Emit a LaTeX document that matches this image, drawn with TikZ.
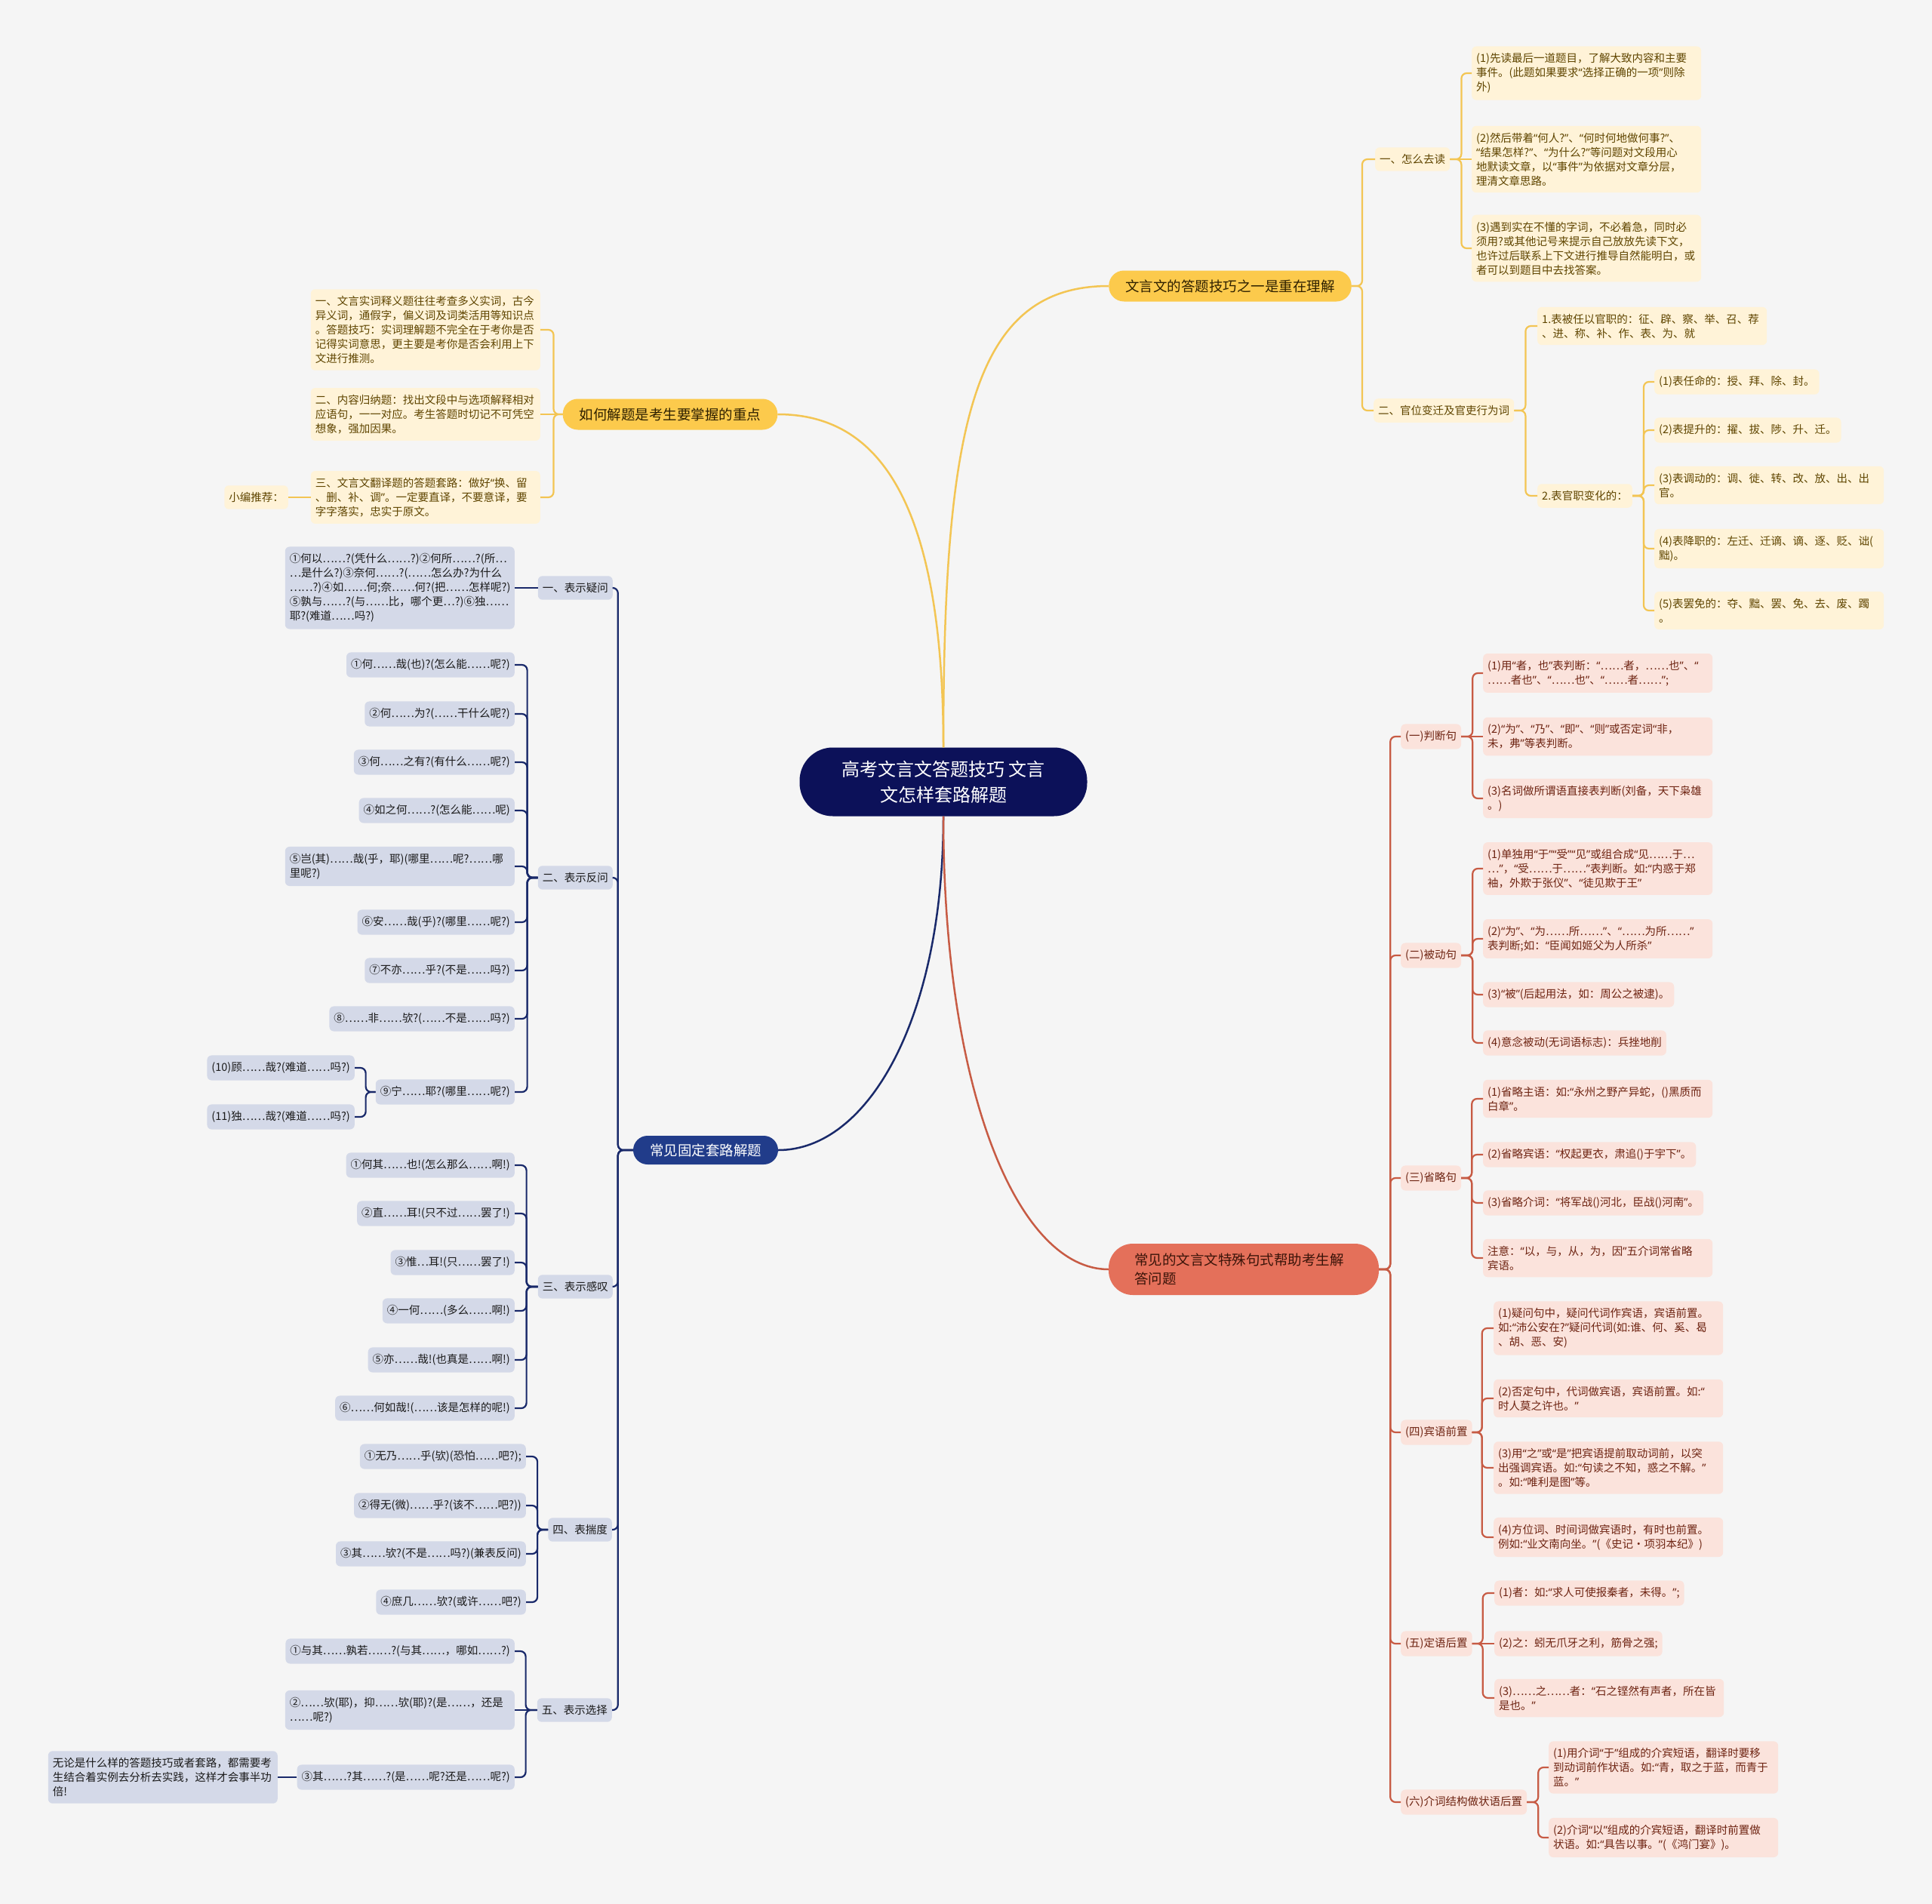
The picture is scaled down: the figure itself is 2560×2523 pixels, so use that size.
\documentclass[tikz,border=0pt]{standalone}
\usepackage{fontspec}
\usepackage{tikz}
\newfontfamily\cjk{Noto Sans CJK SC}
\newfontfamily\qfont{Noto Sans}

\definecolor{paper}{HTML}{F5F5F5}
\definecolor{rootnavy}{HTML}{0C1159}
\definecolor{sunY}{HTML}{FCCA4C}
\definecolor{lineY}{HTML}{F3C553}
\definecolor{creamY}{HTML}{FFF3D8}
\definecolor{inkY}{HTML}{5F4500}
\definecolor{inkTop}{HTML}{2E2000}
\definecolor{midnavy}{HTML}{213C8A}
\definecolor{lineB}{HTML}{19296A}
\definecolor{lilacB}{HTML}{D4D9E8}
\definecolor{inkB}{HTML}{1A1A1A}
\definecolor{coral}{HTML}{E4705A}
\definecolor{lineR}{HTML}{C75B44}
\definecolor{blushR}{HTML}{FBE3DC}
\definecolor{inkR}{HTML}{6E2412}
\definecolor{inkTopR}{HTML}{3A1409}

\newcommand{\rootfont}{\cjk\fontsize{24}{34}\selectfont}
\newcommand{\topicfont}{\cjk\fontsize{18.5}{25}\selectfont}
\newcommand{\leaffont}{\cjk\fontsize{14.5}{19}\selectfont}

% narrow western quotes inside the CJK text
\begingroup
\catcode`\“=\active
\catcode`\”=\active
\gdef“{{\qfont\char"201C}}
\gdef”{{\qfont\char"201D}}
\endgroup
\catcode`\“=\active
\catcode`\”=\active

\tikzstyle{rootnode} = [rectangle, rounded corners=44pt, minimum width=381pt, minimum height=91pt, align=center, fill=rootnavy, text=white, font=\rootfont]
\tikzstyle{topicY} = [rectangle, rounded corners=20pt, minimum height=41pt, inner xsep=22pt, fill=sunY, text=inkTop, font=\topicfont]
\tikzstyle{topicB} = [rectangle, rounded corners=19pt, minimum height=38pt, inner xsep=22pt, fill=midnavy, text=white, font=\topicfont]
\tikzstyle{topicR} = [rectangle, rounded corners=32pt, minimum height=68pt, text width=290pt, inner xsep=34pt, align=left, fill=coral, text=inkTopR, font=\topicfont]
\tikzstyle{leafY} = [rectangle, rounded corners=6pt, inner xsep=6pt, inner ysep=9pt, fill=creamY, text=inkY, font=\leaffont]
\tikzstyle{leafB} = [rectangle, rounded corners=6pt, inner xsep=6pt, inner ysep=9pt, fill=lilacB, text=inkB, font=\leaffont]
\tikzstyle{leafR} = [rectangle, rounded corners=6pt, inner xsep=6pt, inner ysep=9pt, fill=blushR, text=inkR, font=\leaffont]
\tikzstyle{boxw} = [text width=292pt, align=left]
\tikzstyle{linkY} = [draw=lineY, line width=2.2pt, rounded corners=7pt]
\tikzstyle{linkB} = [draw=lineB, line width=2.2pt, rounded corners=7pt]
\tikzstyle{linkR} = [draw=lineR, line width=2.2pt, rounded corners=7pt]
\tikzstyle{curveY} = [draw=lineY, line width=2.5pt]
\tikzstyle{curveB} = [draw=lineB, line width=2.5pt]
\tikzstyle{curveR} = [draw=lineR, line width=2.5pt]

\begin{document}
\begin{tikzpicture}[x=1pt, y=-1pt]

    % Canvas
    \fill [paper] (0,0) rectangle (2560,2523);
    \useasboundingbox (0,0) rectangle (2560,2523);

    % Nodes
    \node (root) [rootnode] at (1250,1036) {高考文言文答题技巧 文言\\文怎样套路解题};
    \node (readskill) [topicY] at (1630,379) {文言文的答题技巧之一是重在理解};
    \node (keypoint) [topicY] at (888,549) {如何解题是考生要掌握的重点};
    \node (routine) [topicB] at (935,1524) {常见固定套路解题};
    \node (special) [topicR] at (1648,1682) {常见的文言文特殊句式帮助考生解\\答问题};

    % Reading branch
    \node (howread) [leafY, anchor=west] at (1822,211) {一、怎么去读};
    \node (read1) [leafY, boxw, anchor=west] at (1950,97) {(1)先读最后一道题目，了解大致内容和主要\\事件。(此题如果要求“选择正确的一项”则除\\外)};
    \node (read2) [leafY, boxw, anchor=west] at (1950,211) {(2)然后带着“何人?”、“何时何地做何事?”、\\“结果怎样?”、“为什么?”等问题对文段用心\\地默读文章，以“事件”为依据对文章分层，\\理清文章思路。};
    \node (read3) [leafY, boxw, anchor=west] at (1950,329) {(3)遇到实在不懂的字词，不必着急，同时必\\须用?或其他记号来提示自己放放先读下文，\\也许过后联系上下文进行推导自然能明白，或\\者可以到题目中去找答案。};
    \node (official) [leafY, anchor=west] at (1820,544) {二、官位变迁及官吏行为词};
    \node (appoint) [leafY, boxw, anchor=west] at (2037,432) {1.表被任以官职的：征、辟、察、举、召、荐\\、进、称、补、作、表、为、就};
    \node (change) [leafY, anchor=west] at (2037,657) {2.表官职变化的：};
    \node (chg1) [leafY, anchor=west] at (2192,506) {(1)表任命的：授、拜、除、封。};
    \node (chg2) [leafY, anchor=west] at (2192,570) {(2)表提升的：擢、拔、陟、升、迁。};
    \node (chg3) [leafY, boxw, anchor=west] at (2192,643) {(3)表调动的：调、徙、转、改、放、出、出\\官。};
    \node (chg4) [leafY, boxw, anchor=west] at (2192,727) {(4)表降职的：左迁、迁谪、谪、逐、贬、诎(\\黜)。};
    \node (chg5) [leafY, boxw, anchor=west] at (2192,809) {(5)表罢免的：夺、黜、罢、免、去、废、躅\\。};

    % Key point branch
    \node (kp1) [leafY, boxw, anchor=east] at (716,437) {一、文言实词释义题往往考查多义实词，古今\\异义词，通假字，偏义词及词类活用等知识点\\。答题技巧：实词理解题不完全在于考你是否\\记得实词意思，更主要是考你是否会利用上下\\文进行推测。};
    \node (kp2) [leafY, boxw, anchor=east] at (716,549) {二、内容归纳题：找出文段中与选项解释相对\\应语句，一一对应。考生答题时切记不可凭空\\想象，强加因果。};
    \node (kp3) [leafY, boxw, anchor=east] at (716,659) {三、文言文翻译题的答题套路：做好“换、留\\、删、补、调”。一定要直译，不要意译，要\\字字落实，忠实于原文。};
    \node (recommend) [leafY, anchor=east] at (382,659) {小编推荐：};

    % Routine branch
    \node (ask) [leafB, anchor=east] at (812,779) {一、表示疑问};
    \node (askA) [leafB, boxw, anchor=east] at (682,779) {①何以……?(凭什么……?)②何所……?(所…\\…是什么?)③奈何……?(……怎么办?为什么\\……?)④如……何;奈……何?(把……怎样呢?)\\⑤孰与……?(与……比，哪个更…?)⑥独……\\耶?(难道……吗?)};
    \node (retort) [leafB, anchor=east] at (812,1163) {二、表示反问};
    \node (ret1) [leafB, anchor=east] at (682,881) {①何……哉(也)?(怎么能……呢?)};
    \node (ret2) [leafB, anchor=east] at (682,946) {②何……为?(……干什么呢?)};
    \node (ret3) [leafB, anchor=east] at (682,1010) {③何……之有?(有什么……呢?)};
    \node (ret4) [leafB, anchor=east] at (682,1074) {④如之何……?(怎么能……呢)};
    \node (ret5) [leafB, boxw, anchor=east] at (682,1148) {⑤岂(其)……哉(乎，耶)(哪里……呢?……哪\\里呢?)};
    \node (ret6) [leafB, anchor=east] at (682,1222) {⑥安……哉(乎)?(哪里……呢?)};
    \node (ret7) [leafB, anchor=east] at (682,1286) {⑦不亦……乎?(不是……吗?)};
    \node (ret8) [leafB, anchor=east] at (682,1350) {⑧……非……欤?(……不是……吗?)};
    \node (ret9) [leafB, anchor=east] at (682,1447) {⑨宁……耶?(哪里……呢?)};
    \node (ret10) [leafB, anchor=east] at (470,1415) {(10)顾……哉?(难道……吗?)};
    \node (ret11) [leafB, anchor=east] at (470,1480) {(11)独……哉?(难道……吗?)};
    \node (sigh) [leafB, anchor=east] at (812,1705) {三、表示感叹};
    \node (sigh1) [leafB, anchor=east] at (682,1544) {①何其……也!(怎么那么……啊!)};
    \node (sigh2) [leafB, anchor=east] at (682,1608) {②直……耳!(只不过……罢了!)};
    \node (sigh3) [leafB, anchor=east] at (682,1673) {③惟…耳!(只……罢了!)};
    \node (sigh4) [leafB, anchor=east] at (682,1737) {④一何……(多么……啊!)};
    \node (sigh5) [leafB, anchor=east] at (682,1802) {⑤亦……哉!(也真是……啊!)};
    \node (sigh6) [leafB, anchor=east] at (682,1866) {⑥……何如哉!(……该是怎样的呢!)};
    \node (guess) [leafB, anchor=east] at (811,2027) {四、表揣度};
    \node (gs1) [leafB, anchor=east] at (697,1930) {①无乃……乎(欤)(恐怕……吧?);};
    \node (gs2) [leafB, anchor=east] at (697,1995) {②得无(微)……乎?(该不……吧?))};
    \node (gs3) [leafB, anchor=east] at (697,2059) {③其……欤?(不是……吗?)(兼表反问)};
    \node (gs4) [leafB, anchor=east] at (697,2123) {④庶几……欤?(或许……吧?)};
    \node (choose) [leafB, anchor=east] at (811,2266) {五、表示选择};
    \node (ch1) [leafB, anchor=east] at (682,2188) {①与其……孰若……?(与其……，哪如……?)};
    \node (ch2) [leafB, boxw, anchor=east] at (682,2266) {②……欤(耶)，抑……欤(耶)?(是……，还是\\……呢?)};
    \node (ch3) [leafB, anchor=east] at (682,2355) {③其……?其……?(是……呢?还是……呢?)};
    \node (chnote) [leafB, boxw, anchor=east] at (368,2355) {无论是什么样的答题技巧或者套路，都需要考\\生结合着实例去分析去实践，这样才会事半功\\倍!};

    % Special sentence branch
    \node (judge) [leafR, anchor=west] at (1856,976) {(一)判断句};
    \node (jd1) [leafR, boxw, anchor=west] at (1965,892) {(1)用“者，也”表判断：“……者，……也”、“\\……者也”、“……也”、“……者……”;};
    \node (jd2) [leafR, boxw, anchor=west] at (1965,976) {(2)“为”、“乃”、“即”、“则”或否定词“非，\\未，弗”等表判断。};
    \node (jd3) [leafR, boxw, anchor=west] at (1965,1058) {(3)名词做所谓语直接表判断(刘备，天下枭雄\\。)};
    \node (passive) [leafR, anchor=west] at (1856,1266) {(二)被动句};
    \node (ps1) [leafR, boxw, anchor=west] at (1965,1151) {(1)单独用“于”“受”“见”或组合成“见……于…\\…”，“受……于……”表判断。如:“内惑于郑\\袖，外欺于张仪”、“徒见欺于王”};
    \node (ps2) [leafR, boxw, anchor=west] at (1965,1244) {(2)“为”、“为……所……”、“……为所……”\\表判断;如：“臣闻如姬父为人所杀”};
    \node (ps3) [leafR, anchor=west] at (1965,1318) {(3)“被”(后起用法，如：周公之被逮)。};
    \node (ps4) [leafR, anchor=west] at (1965,1382) {(4)意念被动(无词语标志)：兵挫地削};
    \node (omit) [leafR, anchor=west] at (1856,1561) {(三)省略句};
    \node (om1) [leafR, boxw, anchor=west] at (1965,1456) {(1)省略主语：如:“永州之野产异蛇，()黑质而\\白章”。};
    \node (om2) [leafR, anchor=west] at (1965,1530) {(2)省略宾语：“权起更衣，肃追()于宇下”。};
    \node (om3) [leafR, anchor=west] at (1965,1594) {(3)省略介词：“将军战()河北，臣战()河南”。};
    \node (om4) [leafR, boxw, anchor=west] at (1965,1667) {注意：“以，与，从，为，因”五介词常省略\\宾语。};
    \node (object) [leafR, anchor=west] at (1856,1898) {(四)宾语前置};
    \node (ob1) [leafR, boxw, anchor=west] at (1979,1760) {(1)疑问句中，疑问代词作宾语，宾语前置。\\如:“沛公安在?”疑问代词(如:谁、何、奚、曷\\、胡、恶、安)};
    \node (ob2) [leafR, boxw, anchor=west] at (1979,1853) {(2)否定句中，代词做宾语，宾语前置。如:“\\时人莫之许也。”};
    \node (ob3) [leafR, boxw, anchor=west] at (1979,1945) {(3)用“之”或“是”把宾语提前取动词前，以突\\出强调宾语。如:“句读之不知，惑之不解。”\\。如:“唯利是图”等。};
    \node (ob4) [leafR, boxw, anchor=west] at (1979,2037) {(4)方位词、时间词做宾语时，有时也前置。\\例如:“业文南向坐。”(《史记·项羽本纪》)};
    \node (attrib) [leafR, anchor=west] at (1856,2178) {(五)定语后置};
    \node (at1) [leafR, anchor=west] at (1980,2111) {(1)者：如:“求人可使报秦者，未得。”;};
    \node (at2) [leafR, anchor=west] at (1980,2178) {(2)之：蚓无爪牙之利，筋骨之强;};
    \node (at3) [leafR, boxw, anchor=west] at (1980,2250) {(3)……之……者：“石之铿然有声者，所在皆\\是也。”};
    \node (prep) [leafR, anchor=west] at (1856,2388) {(六)介词结构做状语后置};
    \node (pp1) [leafR, boxw, anchor=west] at (2052,2342) {(1)用介词“于”组成的介宾短语，翻译时要移\\到动词前作状语。如:“青，取之于蓝，而青于\\蓝。”};
    \node (pp2) [leafR, boxw, anchor=west] at (2052,2435) {(2)介词“以”组成的介宾短语，翻译时前置做\\状语。如:“具告以事。”(《鸿门宴》)。};

    % Main branches
    \draw [curveY] (root.north) .. controls (1250,560) and (1290,379) .. (readskill.west);
    \draw [curveY] (root.north) .. controls (1250,640) and (1150,549) .. (keypoint.east);
    \draw [curveB] (root.south) .. controls (1250,1350) and (1150,1524) .. (routine.east);
    \draw [curveR] (root.south) .. controls (1250,1450) and (1350,1682) .. (special.west);

    % Reading links
    \draw [linkY] (readskill.east) -- ++(14,0) |- (howread.west);
    \draw [linkY] (readskill.east) -- ++(14,0) |- (official.west);
    \draw [linkY] (howread.east) -- ++(15,0) |- (read1.west);
    \draw [linkY] (howread.east) -- (read2.west);
    \draw [linkY] (howread.east) -- ++(15,0) |- (read3.west);
    \draw [linkY] (official.east) -- ++(15,0) |- (appoint.west);
    \draw [linkY] (official.east) -- ++(15,0) |- (change.west);
    \draw [linkY] (change.east) -- ++(15,0) |- (chg1.west);
    \draw [linkY] (change.east) -- ++(15,0) |- (chg2.west);
    \draw [linkY] (change.east) -- ++(15,0) |- (chg3.west);
    \draw [linkY] (change.east) -- ++(15,0) |- (chg4.west);
    \draw [linkY] (change.east) -- ++(15,0) |- (chg5.west);

    % Key point links
    \draw [linkY] (keypoint.west) -- ++(-12,0) |- (kp1.east);
    \draw [linkY] (keypoint.west) -- (kp2.east);
    \draw [linkY] (keypoint.west) -- ++(-12,0) |- (kp3.east);
    \draw [linkY] (recommend.east) -- (kp3.west);

    % Routine links
    \draw [linkB] (routine.west) -- ++(-20,0) |- (ask.east);
    \draw [linkB] (routine.west) -- ++(-20,0) |- (retort.east);
    \draw [linkB] (routine.west) -- ++(-20,0) |- (sigh.east);
    \draw [linkB] (routine.west) -- ++(-20,0) |- (guess.east);
    \draw [linkB] (routine.west) -- ++(-20,0) |- (choose.east);
    \draw [linkB] (ask.west) -- (askA.east);
    \draw [linkB] (retort.west) -- ++(-14,0) |- (ret1.east);
    \draw [linkB] (retort.west) -- ++(-14,0) |- (ret2.east);
    \draw [linkB] (retort.west) -- ++(-14,0) |- (ret3.east);
    \draw [linkB] (retort.west) -- ++(-14,0) |- (ret4.east);
    \draw [linkB] (retort.west) -- ++(-14,0) |- (ret5.east);
    \draw [linkB] (retort.west) -- ++(-14,0) |- (ret6.east);
    \draw [linkB] (retort.west) -- ++(-14,0) |- (ret7.east);
    \draw [linkB] (retort.west) -- ++(-14,0) |- (ret8.east);
    \draw [linkB] (retort.west) -- ++(-14,0) |- (ret9.east);
    \draw [linkB] (ret9.west) -- ++(-13,0) |- (ret10.east);
    \draw [linkB] (ret9.west) -- ++(-13,0) |- (ret11.east);
    \draw [linkB] (sigh.west) -- ++(-15,0) |- (sigh1.east);
    \draw [linkB] (sigh.west) -- ++(-15,0) |- (sigh2.east);
    \draw [linkB] (sigh.west) -- ++(-15,0) |- (sigh3.east);
    \draw [linkB] (sigh.west) -- ++(-15,0) |- (sigh4.east);
    \draw [linkB] (sigh.west) -- ++(-15,0) |- (sigh5.east);
    \draw [linkB] (sigh.west) -- ++(-15,0) |- (sigh6.east);
    \draw [linkB] (guess.west) -- ++(-14,0) |- (gs1.east);
    \draw [linkB] (guess.west) -- ++(-14,0) |- (gs2.east);
    \draw [linkB] (guess.west) -- ++(-14,0) |- (gs3.east);
    \draw [linkB] (guess.west) -- ++(-14,0) |- (gs4.east);
    \draw [linkB] (choose.west) -- ++(-15,0) |- (ch1.east);
    \draw [linkB] (choose.west) -- (ch2.east);
    \draw [linkB] (choose.west) -- ++(-15,0) |- (ch3.east);
    \draw [linkB] (ch3.west) -- (chnote.east);

    % Special sentence links
    \draw [linkR] (special.east) -- ++(15,0) |- (judge.west);
    \draw [linkR] (special.east) -- ++(15,0) |- (passive.west);
    \draw [linkR] (special.east) -- ++(15,0) |- (omit.west);
    \draw [linkR] (special.east) -- ++(15,0) |- (object.west);
    \draw [linkR] (special.east) -- ++(15,0) |- (attrib.west);
    \draw [linkR] (special.east) -- ++(15,0) |- (prep.west);
    \draw [linkR] (judge.east) -- ++(15,0) |- (jd1.west);
    \draw [linkR] (judge.east) -- (jd2.west);
    \draw [linkR] (judge.east) -- ++(15,0) |- (jd3.west);
    \draw [linkR] (passive.east) -- ++(15,0) |- (ps1.west);
    \draw [linkR] (passive.east) -- ++(15,0) |- (ps2.west);
    \draw [linkR] (passive.east) -- ++(15,0) |- (ps3.west);
    \draw [linkR] (passive.east) -- ++(15,0) |- (ps4.west);
    \draw [linkR] (omit.east) -- ++(14,0) |- (om1.west);
    \draw [linkR] (omit.east) -- ++(14,0) |- (om2.west);
    \draw [linkR] (omit.east) -- ++(14,0) |- (om3.west);
    \draw [linkR] (omit.east) -- ++(14,0) |- (om4.west);
    \draw [linkR] (object.east) -- ++(13,0) |- (ob1.west);
    \draw [linkR] (object.east) -- ++(13,0) |- (ob2.west);
    \draw [linkR] (object.east) -- ++(13,0) |- (ob3.west);
    \draw [linkR] (object.east) -- ++(13,0) |- (ob4.west);
    \draw [linkR] (attrib.east) -- ++(14,0) |- (at1.west);
    \draw [linkR] (attrib.east) -- (at2.west);
    \draw [linkR] (attrib.east) -- ++(14,0) |- (at3.west);
    \draw [linkR] (prep.east) -- ++(15,0) |- (pp1.west);
    \draw [linkR] (prep.east) -- ++(15,0) |- (pp2.west);

\end{tikzpicture}
\end{document}
